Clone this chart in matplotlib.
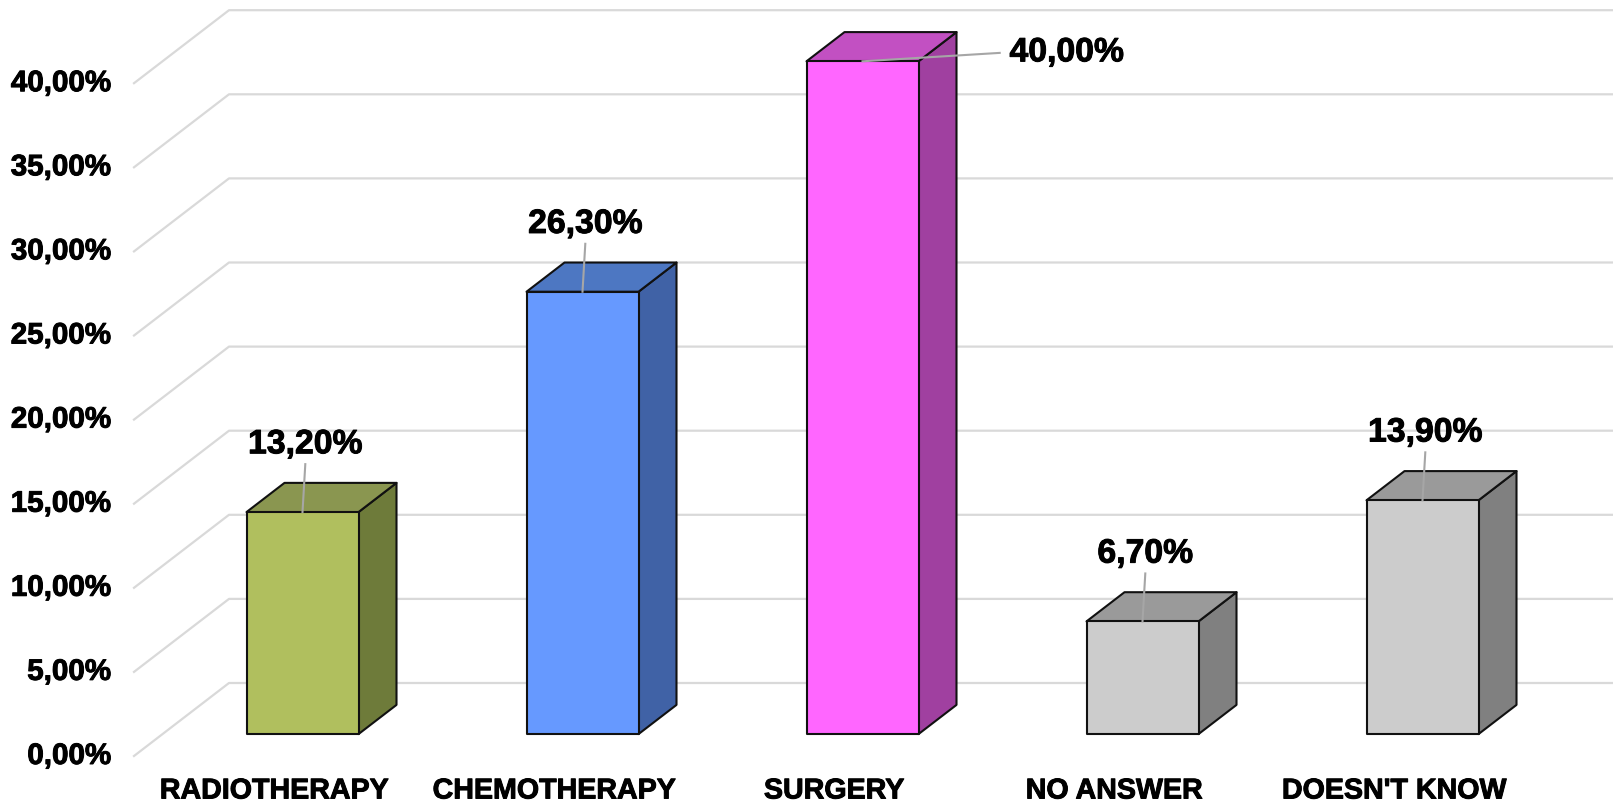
import numpy as np
import matplotlib.pyplot as plt
import matplotlib.patheffects as pe
from matplotlib.patches import Polygon

plt.rcParams['font.family'] = ['Liberation Sans', 'DejaVu Sans']

categories = ["RADIOTHERAPY", "CHEMOTHERAPY", "SURGERY", "NO ANSWER", "DOESN'T KNOW"]
values = [13.2, 26.3, 40.0, 6.7, 13.9]
value_labels = ["13,20%", "26,30%", "40,00%", "6,70%", "13,90%"]
y_ticks = [0, 5, 10, 15, 20, 25, 30, 35, 40]
y_tick_labels = ["0,00%", "5,00%", "10,00%", "15,00%", "20,00%", "25,00%",
                 "30,00%", "35,00%", "40,00%"]

front_colors = ["#B0BF5E", "#6699FF", "#FF66FF", "#CCCCCC", "#CCCCCC"]
top_colors = ["#8A9650", "#4D77C2", "#C250C2", "#9A9A9A", "#9A9A9A"]
side_colors = ["#6E7B3A", "#4062A6", "#A040A0", "#808080", "#808080"]

# oblique projection: full depth shifts by (DX, DY) in data units
DX = 95 / 280
DY = 73 / 16.82
bar_w = 0.4
d0, d1 = 0.3, 0.7

# slightly heavier text, closer to the Arial Bold of the original
heavy = [pe.withStroke(linewidth=0.7, foreground="black")]


def proj(x, y, d):
    return (x + d * DX, y + d * DY)


fig = plt.figure(figsize=(16.13, 8.05), dpi=100)
ax = fig.add_axes([0, 0, 1, 1])
ax.set_xlim(-274 / 280, (1613 - 274) / 280)
ax.set_ylim(-49 / 16.82, (805 - 49) / 16.82)
ax.axis("off")

grid_c = "#D9D9D9"
x_left = -0.5
x_right = 6.0
for t, lab in zip(y_ticks, y_tick_labels):
    p0 = proj(x_left, t, 0)
    p1 = proj(x_left, t, 1)
    p2 = proj(x_right, t, 1)
    ax.plot([p0[0], p1[0], p2[0]], [p0[1], p1[1], p2[1]], color=grid_c, lw=1.6, zorder=1)
    ax.text(x_left - 0.08, t, lab, ha="right", va="center",
            fontsize=21.3, fontweight="bold", color="black", path_effects=heavy)

for i, (v, fc, tc, sc) in enumerate(zip(values, front_colors, top_colors, side_colors)):
    xl, xr = i - bar_w / 2, i + bar_w / 2
    front = [proj(xl, 0, d0), proj(xr, 0, d0), proj(xr, v, d0), proj(xl, v, d0)]
    side = [proj(xr, 0, d0), proj(xr, 0, d1), proj(xr, v, d1), proj(xr, v, d0)]
    top = [proj(xl, v, d0), proj(xr, v, d0), proj(xr, v, d1), proj(xl, v, d1)]
    for pts, c in ((side, sc), (top, tc), (front, fc)):
        ax.add_patch(Polygon(pts, closed=True, facecolor=c, edgecolor="#111111",
                             lw=1.5, joinstyle="round", zorder=3))

    ax.text(i, -2.05, categories[i], ha="center", va="center",
            fontsize=20.6, fontweight="bold", color="black", path_effects=heavy)

    # value labels with leader lines
    bx, by = proj(i, v, d0)
    if i == 2:
        lx, ly = bx + 0.49, by + 0.5
        ax.plot([bx, lx], [by, ly], color="#A6A6A6", lw=1.5, zorder=4)
        ax.text(lx + 0.035, ly, value_labels[i], ha="left", va="center",
                fontsize=24.3, fontweight="bold", color="black", zorder=5,
                path_effects=heavy)
    else:
        ax.plot([bx, bx + 0.01], [by, by + 2.85], color="#A6A6A6", lw=1.5, zorder=4)
        ax.text(bx + 0.01, by + 4.0, value_labels[i], ha="center", va="center",
                fontsize=24.3, fontweight="bold", color="black", zorder=5,
                path_effects=heavy)

fig.savefig("out.png", dpi=100, facecolor="white")
